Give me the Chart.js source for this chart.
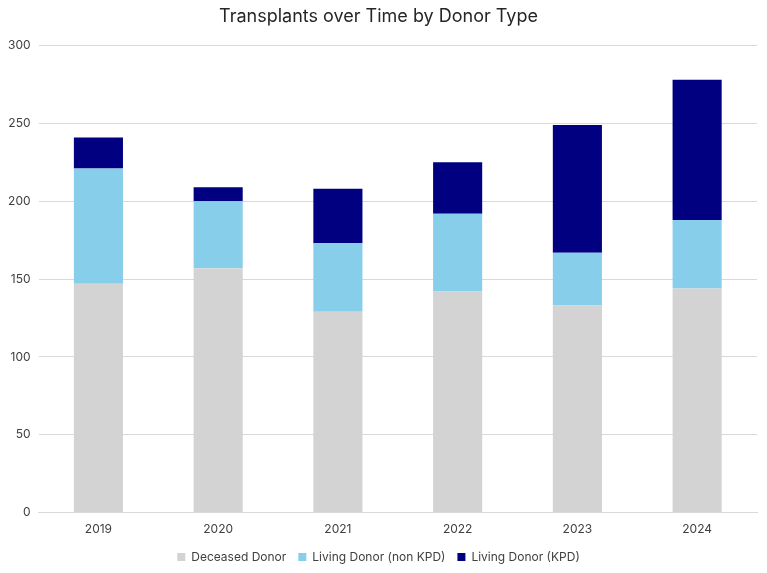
<!DOCTYPE html>
<html>
<head>
<meta charset="utf-8">
<script src="https://cdn.jsdelivr.net/npm/chart.js@4"></script>
<style>
  html, body { margin: 0; padding: 0; background: #fff; }
  #wrap { width: 767px; height: 573px; }
</style>
</head>
<body>
<div id="wrap"><canvas id="myChart"></canvas></div>
<script>
const years = ['2019', '2020', '2021', '2022', '2023', '2024'];
const deceased = [147, 157, 129, 142, 133, 144];
const livingNonKpd = [74, 43, 44, 50, 34, 44];
const livingKpd = [20, 9, 35, 33, 82, 90];
const yTicks = [0, 50, 100, 150, 200, 250, 300];

document.addEventListener("DOMContentLoaded", function() {
    const ctx = document.getElementById('myChart').getContext('2d');
    Chart.defaults.font.family = 'Inter, "Open Sans", sans-serif';
    Chart.defaults.color = '#404040';

    const data = {
        labels: years,
        datasets: [{
            label: 'Deceased Donor',
            data: deceased,
            backgroundColor: '#d3d3d3'
        }, {
            label: 'Living Donor (non KPD)',
            data: livingNonKpd,
            backgroundColor: '#87ceeb'
        }, {
            label: 'Living Donor (KPD)',
            data: livingKpd,
            backgroundColor: '#000080'
        }]
    };

    const options = {
        responsive: true,
        maintainAspectRatio: false,
        animation: false,
        layout: { padding: { left: 0, right: 10, top: 4, bottom: 0 } },
        datasets: {
            bar: { categoryPercentage: 1, barPercentage: 0.41 }
        },
        scales: {
            x: {
                stacked: true,
                grid: { display: false },
                border: { color: '#d9d9d9', width: 1 },
                ticks: { font: { size: 12 }, padding: 2 }
            },
            y: {
                stacked: true,
                min: 0,
                max: 300,
                afterBuildTicks: function(axis) {
                    axis.ticks = yTicks.map(v => ({ value: v }));
                },
                grid: { color: '#d9d9d9', drawTicks: false },
                border: { display: false },
                ticks: { font: { size: 12 }, padding: 8 }
            }
        },
        plugins: {
            title: {
                display: true,
                text: 'Transplants over Time by Donor Type',
                color: '#262626',
                font: { size: 18, weight: 'normal' },
                padding: { top: 2, bottom: 18 }
            },
            legend: {
                position: 'bottom',
                labels: {
                    boxWidth: 8,
                    boxHeight: 8,
                    font: { size: 12 },
                    padding: 12
                }
            },
            tooltip: { mode: 'index', intersect: false }
        }
    };

    new Chart(ctx, { type: 'bar', data: data, options: options });
});
</script>
</body>
</html>
